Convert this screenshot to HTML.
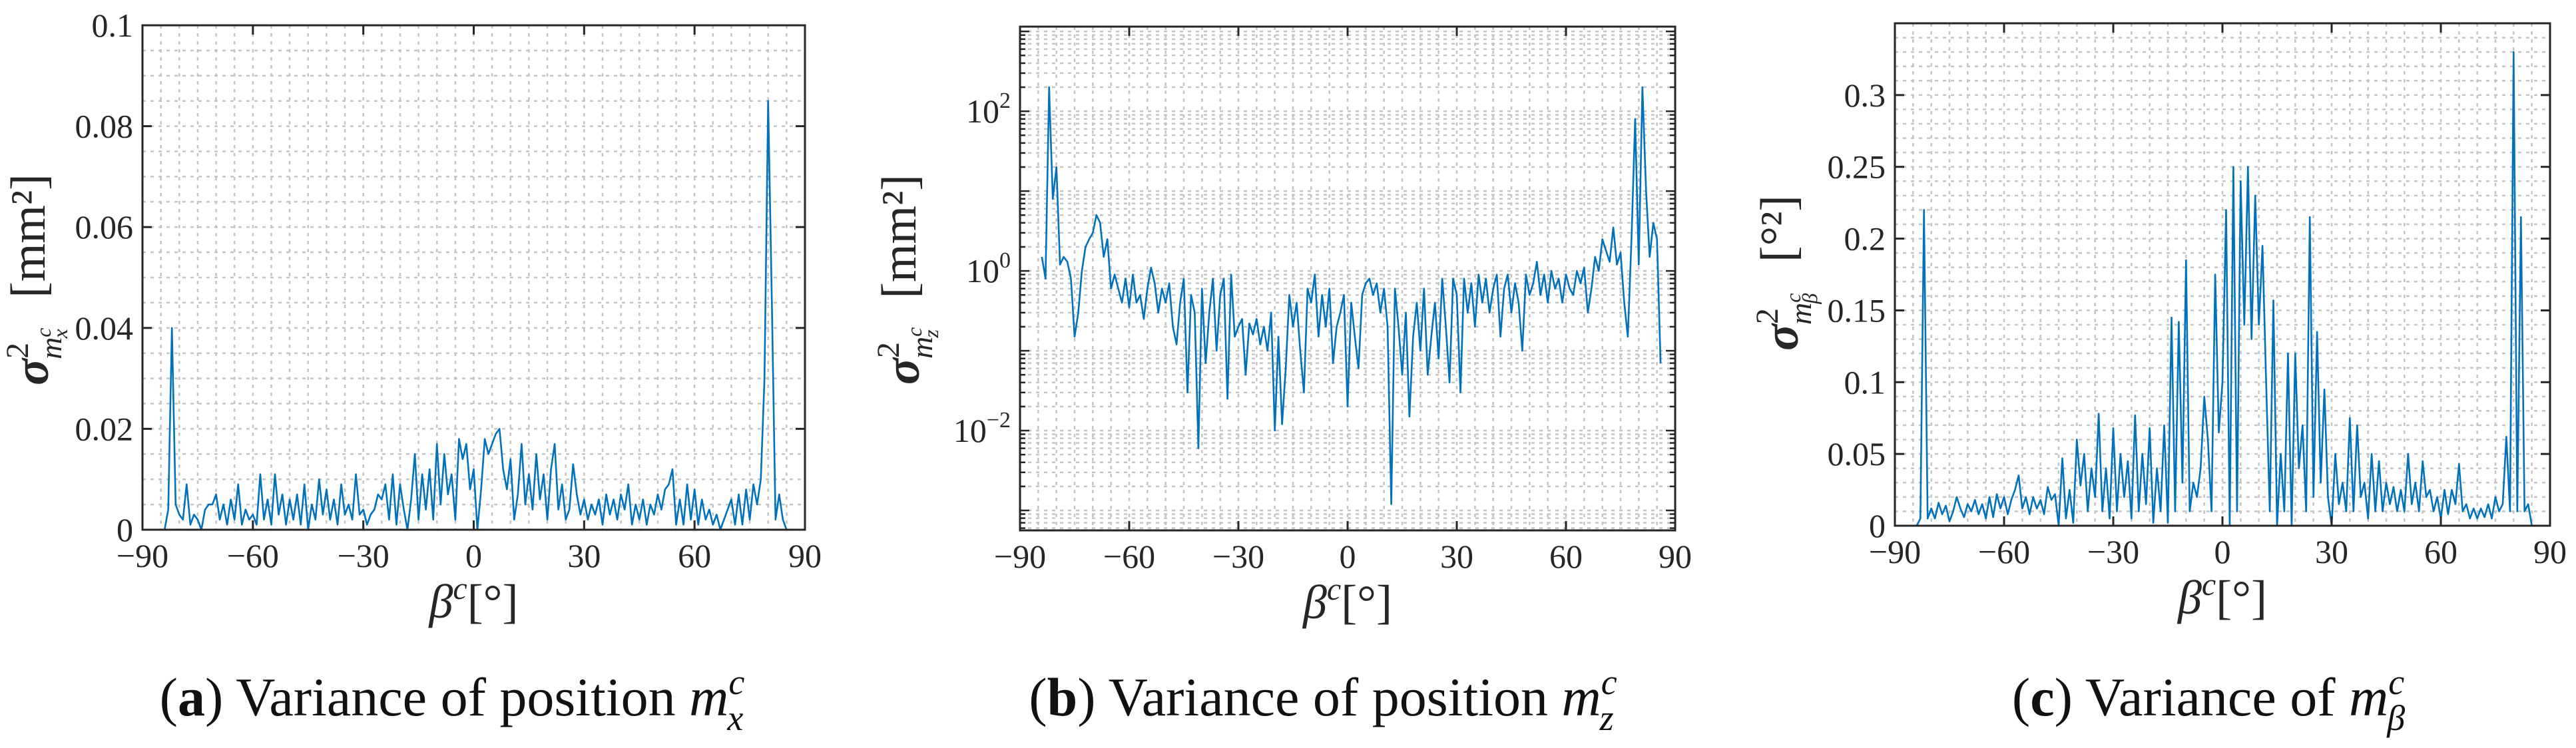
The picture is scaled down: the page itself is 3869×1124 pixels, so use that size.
<!DOCTYPE html>
<html><head><meta charset="utf-8"><style>
html,body{margin:0;padding:0;background:#fff;}
svg{display:block;font-family:"Liberation Serif",serif;}
</style></head><body>
<svg id="fig" width="3869" height="1124" viewBox="0 0 3869 1124" xmlns="http://www.w3.org/2000/svg"></svg>
<script>
// ---- data (beta in degrees, 1-degree sampling) ----
const betaStartA = -84;
const varA = [0,0.004,0.04,0.005,0.003,0.002,0.009,0.001,0.003,0.002,0.0,0.004,0.005,0.005,0.007,0.002,0.005,0.001,0.006,0.002,0.009,0.001,0.004,0.002,0.003,0.001,0.011,0.002,0.006,0.001,0.011,0.003,0.007,0.001,0.006,0.002,0.007,0.001,0.009,0.0,0.005,0.002,0.01,0.003,0.008,0.002,0.006,0.001,0.009,0.003,0.005,0.002,0.011,0.003,0.004,0.001,0.003,0.004,0.007,0.006,0.009,0.002,0.011,0.001,0.009,0.004,0.0,0.006,0.015,0.002,0.011,0.004,0.012,0.002,0.017,0.005,0.015,0.007,0.011,0.002,0.018,0.014,0.017,0.008,0.012,0.0,0.008,0.018,0.015,0.017,0.019,0.02,0.012,0.008,0.014,0.002,0.007,0.017,0.005,0.011,0.004,0.015,0.006,0.011,0.002,0.012,0.017,0.004,0.009,0.002,0.004,0.013,0.007,0.003,0.006,0.002,0.005,0.003,0.006,0.001,0.007,0.003,0.006,0.002,0.007,0.004,0.009,0.001,0.005,0.002,0.006,0.001,0.005,0.003,0.007,0.004,0.008,0.009,0.012,0.001,0.006,0.001,0.009,0.002,0.008,0.001,0.006,0.002,0.004,0.001,0.003,0.0,0.002,0.004,0.006,0.001,0.007,0.001,0.008,0.002,0.009,0.005,0.01,0.03,0.085,0.045,0.002,0.007,0.002,0.0];
const betaStartB = -84;
const varB = [1.5,0.8,200,8,20,1.2,1.5,1.3,0.8,0.15,0.3,1,2,2.5,3,5,4,1.5,2.5,0.6,0.9,0.6,0.4,0.8,0.35,0.9,0.4,0.5,0.25,0.6,1.1,0.7,0.3,0.6,0.4,0.7,0.2,0.12,0.4,0.8,0.03,0.5,0.3,0.006,0.6,0.07,0.3,0.8,0.1,0.5,0.8,0.025,0.9,0.15,0.2,0.25,0.05,0.22,0.16,0.25,0.12,0.2,0.1,0.3,0.01,0.15,0.012,0.06,0.5,0.2,0.4,0.1,0.03,0.6,0.4,0.9,0.15,0.5,0.2,0.6,0.07,0.2,0.3,0.5,0.02,0.4,0.15,0.06,0.5,0.7,0.8,0.5,0.7,0.3,0.6,0.2,0.0012,0.6,0.2,0.05,0.3,0.015,0.15,0.4,0.1,0.6,0.05,0.15,0.4,0.08,0.8,0.2,0.04,0.8,0.5,0.03,0.8,0.3,0.7,0.2,0.9,0.4,0.8,0.3,0.6,0.9,0.15,0.6,0.9,0.3,0.7,0.4,0.1,0.9,0.5,0.7,1.3,0.5,0.9,0.4,1.0,0.6,0.8,0.4,0.9,0.6,0.5,1.0,0.7,1.1,0.3,0.6,1.5,1.0,2.5,1.8,1.3,3.5,1.2,1.7,0.4,0.15,2.5,80,1.2,200,10,1.5,4,2.5,0.07];
const betaStartC = -84;
const varC = [0,0.005,0.22,0.005,0.012,0.005,0.016,0.008,0.014,0.003,0.01,0.02,0.012,0.006,0.015,0.01,0.018,0.008,0.015,0.005,0.02,0.006,0.022,0.012,0.02,0.008,0.018,0.025,0.035,0.012,0.02,0.008,0.02,0.012,0.018,0.008,0.027,0.018,0.022,0.0,0.047,0.005,0.025,0.002,0.06,0.028,0.05,0.01,0.04,0.02,0.078,0.01,0.04,0.005,0.068,0.01,0.05,0.02,0.045,0.005,0.077,0.01,0.05,0.015,0.068,0.002,0.04,0.01,0.07,0.002,0.145,0.01,0.142,0.03,0.185,0.01,0.03,0.02,0.04,0.09,0.06,0.01,0.175,0.065,0.1,0.22,0.0,0.25,0.01,0.24,0.14,0.25,0.13,0.23,0.14,0.195,0.1,0.01,0.157,0.0,0.05,0.01,0.12,0.0,0.12,0.04,0.07,0.01,0.215,0.02,0.135,0.03,0.095,0.02,0.0,0.05,0.015,0.03,0.01,0.075,0.01,0.07,0.02,0.03,0.005,0.05,0.01,0.045,0.01,0.03,0.015,0.027,0.01,0.025,0.01,0.05,0.015,0.03,0.01,0.045,0.02,0.025,0.01,0.02,0.005,0.025,0.008,0.025,0.015,0.043,0.01,0.015,0.005,0.012,0.005,0.012,0.006,0.015,0.005,0.02,0.01,0.015,0.062,0.01,0.33,0.01,0.215,0.01,0.015,0.0];
const xTicks = [-90,-60,-30,0,30,60,90];
const yTicksA = [0,0.02,0.04,0.06,0.08,0.1];
const yTickLabelsA = ["0","0.02","0.04","0.06","0.08","0.1"];
const yTicksB = [-2,0,2];
const yTicksC = [0,0.05,0.1,0.15,0.2,0.25,0.3];
const yTickLabelsC = ["0","0.05","0.1","0.15","0.2","0.25","0.3"];

const NS = "http://www.w3.org/2000/svg";
const svg = document.getElementById('fig');
function mk(tag, attrs, parent){
  const e = document.createElementNS(NS, tag);
  for (const k in attrs) e.setAttribute(k, attrs[k]);
  (parent||svg).appendChild(e);
  return e;
}

function panel(cfg){
  const g = mk('g', {});
  
  
  const L=cfg.L, R=cfg.R, T=cfg.T, B=cfg.B;
  const sx = v => L + (v + 90) / 180 * (R - L);
  const sy = v => {
    const t = cfg.log ? Math.log10(Math.max(v,1e-6)) : v;
    return B - (t - cfg.ymin) / (cfg.ymax - cfg.ymin) * (B - T);
  };
  const grid = mk('g', {stroke:'#c4c4c4','stroke-width':2.5,'stroke-dasharray':'5 7',fill:'none'}, g);
  
  
  for (let v=-85; v<90; v+=5){ const x=sx(v); mk('line',{x1:x,x2:x,y1:T,y2:B},grid); }
  if (cfg.log){
    for (let d=Math.floor(cfg.ymin); d<cfg.ymax; d++){
      for (let m=1; m<10; m++){
        const lv = d + Math.log10(m);
        if (lv<=cfg.ymin || lv>=cfg.ymax) continue;
        const y = B - (lv-cfg.ymin)/(cfg.ymax-cfg.ymin)*(B-T);
        mk('line',{x1:L,x2:R,y1:y,y2:y},grid);
        mk('line',{x1:L,x2:L+(m===1?14:8),y1:y,y2:y,stroke:'#262626','stroke-width':2.5,'stroke-dasharray':'none'},grid);
        mk('line',{x1:R,x2:R-(m===1?14:8),y1:y,y2:y,stroke:'#262626','stroke-width':2.5,'stroke-dasharray':'none'},grid);
      }
    }
  } else {
    for (let v=cfg.minor; v<cfg.ymax-1e-9; v+=cfg.minor){ const y=sy(v); mk('line',{x1:L,x2:R,y1:y,y2:y},grid); }
  }
  // series
  let d='';
  cfg.data.forEach((v,i)=>{ d += (i?'L':'M') + sx(cfg.start+i).toFixed(1) + ' ' + sy(v).toFixed(1); });
  const line = mk('path',{d:d,fill:'none',stroke:'#0072BD','stroke-width':2.6,'stroke-linejoin':'round'}, g);
  
  
  // box
  const box = mk('rect',{x:L,y:T,width:R-L,height:B-T,fill:'none',stroke:'#262626','stroke-width':3}, g);
  
  
  // x ticks
  const xt = mk('g',{}, g);
  
  
  xTicks.forEach(v=>{
    const x=sx(v);
    mk('line',{x1:x,x2:x,y1:B,y2:B-14,stroke:'#262626','stroke-width':3},xt);
    mk('line',{x1:x,x2:x,y1:T,y2:T+14,stroke:'#262626','stroke-width':3},xt);
    const t = mk('text',{x:x,y:B+56,'font-size':50,'text-anchor':'middle',fill:'#262626'},xt);
    t.textContent = v<0 ? '\u2212'+(-v) : String(v);
  });
  // y ticks
  const yt = mk('g',{}, g);
  
  
  if (cfg.log){
    yTicksB.forEach(v=>{
      const y = B - (v-cfg.ymin)/(cfg.ymax-cfg.ymin)*(B-T);
      const t = mk('text',{x:L-14,y:y+17,'font-size':50,'text-anchor':'end',fill:'#262626'},yt);
      const base = mk('tspan',{},t); base.textContent='10';
      const sup = mk('tspan',{'font-size':34,dy:-22},t); sup.textContent = v<0?'\u2212'+(-v):String(v);
    });
  } else {
    cfg.yticks.forEach((v,i)=>{
      const y=sy(v);
      mk('line',{x1:L,x2:L+14,y1:y,y2:y,stroke:'#262626','stroke-width':3},yt);
      mk('line',{x1:R,x2:R-14,y1:y,y2:y,stroke:'#262626','stroke-width':3},yt);
      const t = mk('text',{x:L-14,y:y+17,'font-size':50,'text-anchor':'end',fill:'#262626'},yt);
      t.textContent = cfg.ylabels[i];
    });
  }
  // x label
  const xl = mk('text',{x:(L+R)/2,y:B+132,'font-size':72,'text-anchor':'middle',fill:'#262626'},g);
  
  
  const b1 = mk('tspan',{'font-style':'italic'},xl); b1.textContent='\u03B2';
  const b2 = mk('tspan',{'font-style':'italic','font-size':48,dy:-28},xl); b2.textContent='c';
  const b3 = mk('tspan',{dy:28},xl); b3.textContent='[\u00B0]';
  // y label
  const yl = mk('text',{x:0,y:0,'font-size':74,'text-anchor':'middle',fill:'#262626',transform:`translate(${cfg.ylx},${cfg.yly}) rotate(-90)`},g);
  
  
  const s1 = mk('tspan',{'font-style':'italic','font-weight':'bold'},yl); s1.textContent='\u03C3';
  const s2 = mk('tspan',{'font-size':48,dy:-30},yl); s2.textContent='2';
  const s3 = mk('tspan',{'font-size':46,'font-style':'italic',dx:-25,dy:50},yl); s3.textContent='m';
  const s4 = mk('tspan',{'font-size':32,'font-style':'italic',dy:-16},yl); s4.textContent='c';
  const s5 = mk('tspan',{'font-size':32,'font-style':'italic',dx:-16,dy:25},yl); s5.textContent=cfg.sub;
  const s6 = mk('tspan',{dy:-34,dx:28},yl); s6.textContent=cfg.unit;
  // caption
  const cap = mk('text',{x:cfg.capx,y:1075,'font-size':82,'text-anchor':'middle',fill:'#111'},g);
  
  
  const c1 = mk('tspan',{},cap); c1.textContent='(';
  const c2 = mk('tspan',{'font-weight':'bold'},cap); c2.textContent=cfg.letter;
  const c3 = mk('tspan',{},cap); c3.textContent=') '+cfg.captext+' ';
  const c4 = mk('tspan',{'font-style':'italic'},cap); c4.textContent='m';
  const c5 = mk('tspan',{'font-style':'italic','font-size':54,dy:-32},cap); c5.textContent='c';
  const c6 = mk('tspan',{'font-style':'italic','font-size':54,dx:-26,dy:54},cap); c6.textContent=cfg.capsub;
}

panel({name:'panel-a-variance-mx',L:214,R:1209,T:38,B:796,ymin:0,ymax:0.1,minor:0.005,log:false,
  yticks:yTicksA,ylabels:yTickLabelsA,data:varA,start:betaStartA,ylx:72,yly:420,sub:'x',unit:' [mm\u00B2]',
  capx:679,letter:'a',captext:'Variance of position',capsub:'x'});
panel({name:'panel-b-variance-mz',L:1532,R:2516,T:40,B:797,ymin:-3.25,ymax:3.06,log:true,
  data:varB,start:betaStartB,ylx:1380,yly:420,sub:'z',unit:' [mm\u00B2]',
  capx:1987,letter:'b',captext:'Variance of position',capsub:'z'});
panel({name:'panel-c-variance-mbeta',L:2846,R:3830,T:35,B:790,ymin:0,ymax:0.35,minor:0.01,log:false,
  yticks:yTicksC,ylabels:yTickLabelsC,data:varC,start:betaStartC,ylx:2700,yly:410,sub:'\u03B2',unit:' [\u00B0\u00B2]',
  capx:3317,letter:'c',captext:'Variance of',capsub:'\u03B2'});
</script>
</body></html>
